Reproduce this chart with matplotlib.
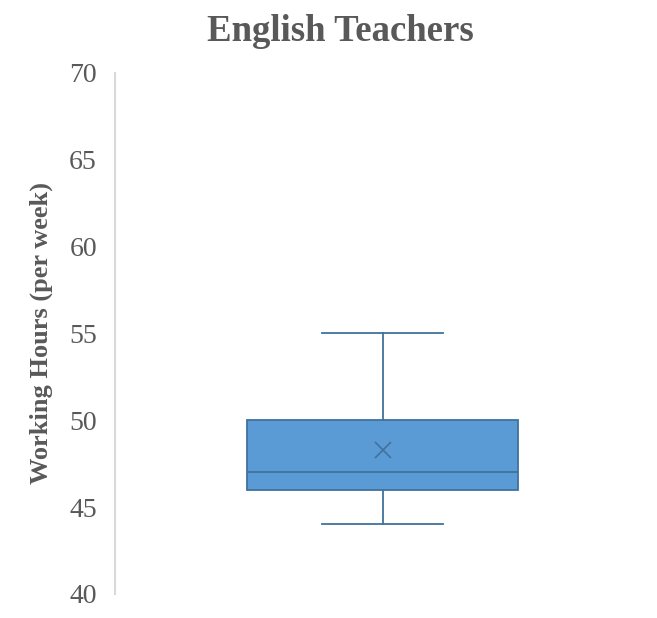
import matplotlib.pyplot as plt

# summary stats
categories = ["English Teachers"]
whisker_low = [44]
q1 = [46]
median = [47]
q3 = [50]
whisker_high = [55]
mean = [48.3]
y_ticks = [40, 45, 50, 55, 60, 65, 70]

plt.rcParams["font.family"] = ["Liberation Serif", "DejaVu Serif"]

fig = plt.figure(figsize=(6.57, 6.18), dpi=100)
ax = fig.add_axes([0.175, 0.039, 0.815, 0.843])

stats = []
for i, name in enumerate(categories):
    stats.append({
        "label": name,
        "whislo": whisker_low[i],
        "q1": q1[i],
        "med": median[i],
        "q3": q3[i],
        "whishi": whisker_high[i],
        "mean": mean[i],
    })

edge = "#41719C"
ax.bxp(
    stats,
    positions=[1],
    widths=0.507,
    patch_artist=True,
    showmeans=True,
    showfliers=False,
    boxprops=dict(facecolor="#5B9BD5", edgecolor=edge, linewidth=1.3),
    medianprops=dict(color=edge, linewidth=1.3),
    whiskerprops=dict(color=edge, linewidth=1.3),
    capprops=dict(color=edge, linewidth=1.3),
    meanprops=dict(marker="x", markeredgecolor=edge, markersize=11, markeredgewidth=1.2),
    capwidths=0.225,
)

ax.set_xlim(0.5, 1.5)
ax.set_ylim(40, 70)
ax.set_yticks(y_ticks)
ax.set_xticks([])
ax.tick_params(axis="y", length=0, pad=13, labelsize=20, labelcolor="#595959")

for side in ["top", "right", "bottom"]:
    ax.spines[side].set_visible(False)
ax.spines["left"].set_color("#D9D9D9")
ax.spines["left"].set_linewidth(1.5)

ax.set_ylabel("Working Hours (per week)", fontsize=19, fontweight="bold", color="#595959", labelpad=12)
fig.suptitle("English Teachers", x=0.518, y=0.978, fontsize=26.5, fontweight="bold", color="#595959")

fig.savefig("out.png", dpi=100)
